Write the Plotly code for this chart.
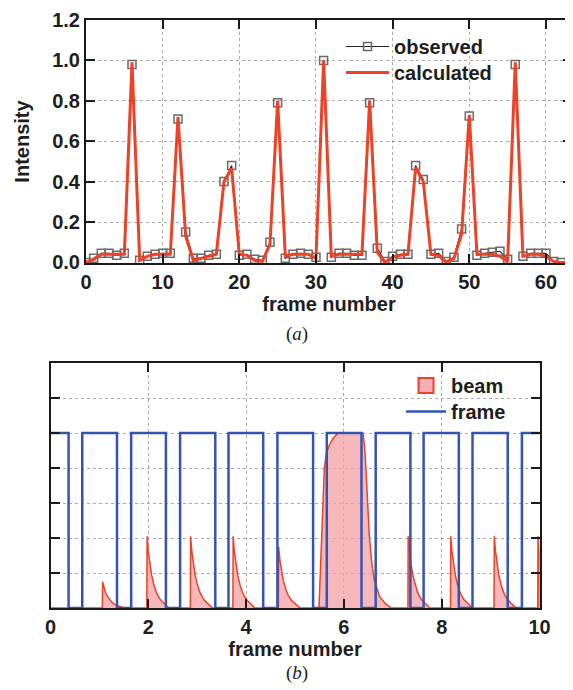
import plotly.graph_objects as go

# ---------------- data (a) ----------------
frames_obs = list(range(63))
observed = [0.0, 0.02, 0.045, 0.045, 0.035, 0.045, 0.98, 0.01, 0.03, 0.04,
            0.045, 0.045, 0.71, 0.15, 0.02, 0.02, 0.035, 0.04, 0.40, 0.48,
            0.035, 0.04, 0.015, 0.01, 0.10, 0.79, 0.02, 0.04, 0.045, 0.04,
            0.025, 1.0, 0.025, 0.045, 0.045, 0.035, 0.035, 0.79, 0.07, 0.005,
            0.03, 0.04, 0.04, 0.48, 0.41, 0.04, 0.045, 0.005, 0.025, 0.165,
            0.725, 0.035, 0.045, 0.05, 0.055, 0.015, 0.98, 0.03, 0.045, 0.045,
            0.045, 0.005, 0.0]
frames_calc = list(range(64))
calculated = [0.0, 0.015, 0.04, 0.04, 0.04, 0.04, 0.99, 0.01, 0.03, 0.04,
              0.04, 0.04, 0.72, 0.13, 0.01, 0.02, 0.03, 0.04, 0.40, 0.465,
              0.04, 0.035, 0.01, 0.005, 0.09, 0.80, 0.03, 0.04, 0.04, 0.04,
              0.02, 1.0, 0.03, 0.04, 0.04, 0.04, 0.04, 0.80, 0.05, 0.0,
              0.025, 0.035, 0.04, 0.47, 0.40, 0.04, 0.035, 0.0, 0.02, 0.14,
              0.73, 0.04, 0.04, 0.04, 0.03, 0.005, 0.99, 0.03, 0.04, 0.04,
              0.03, 0.005, 0.0, 0.0]
xticks_a = [0, 10, 20, 30, 40, 50, 60]
yticks_a = [0.0, 0.2, 0.4, 0.6, 0.8, 1.0, 1.2]

# ---------------- data (b) ----------------
# frame gate: times the frame switches off / on
frame_off = [0.37, 1.36, 2.36, 3.37, 4.35, 5.37, 6.36, 7.36, 8.35, 9.35]
frame_on = [0.65, 1.65, 2.65, 3.64, 4.64, 5.65, 6.65, 7.63, 8.63, 9.64]
# short beam pulses: start time and peak height
pulse_start = [1.06, 1.97, 2.86, 3.73, 4.66, 7.31, 8.18, 9.07, 9.965]
pulse_peak = [0.15, 0.41, 0.41, 0.41, 0.35, 0.41, 0.41, 0.41, 0.41]
# decay profile of a short pulse (offset from start, fraction of peak)
decay_dt = [0.0, 0.005, 0.03, 0.06, 0.10, 0.15, 0.20, 0.27, 0.35, 0.45]
decay_frac = [0.0, 1.0, 0.79, 0.62, 0.45, 0.31, 0.21, 0.12, 0.06, 0.0]
# long pulse around frame 6
long_t = [5.49, 5.52, 5.545, 5.57, 5.60, 5.64, 5.70, 5.78, 5.88, 6.39,
          6.42, 6.45, 6.52, 6.57, 6.62, 6.73, 6.85, 6.97]
long_v = [0.0, 0.2, 0.41, 0.62, 0.80, 0.88, 0.93, 0.97, 1.0, 1.0,
          0.93, 0.80, 0.41, 0.26, 0.16, 0.066, 0.025, 0.0]
xticks_b = [0, 2, 4, 6, 8, 10]
yticks_b = [0.0, 0.2, 0.4, 0.6, 0.8, 1.0, 1.2, 1.4]

# build beam series
pts = [(0.0, 0.0), (10.0, 0.0)]
for s, p in zip(pulse_start, pulse_peak):
    for dt, fr in zip(decay_dt, decay_frac):
        pts.append((s + dt, p * fr))
pts += list(zip(long_t, long_v))
pts.sort(key=lambda q: q[0])
beam_x = [q[0] for q in pts]
beam_y = [q[1] for q in pts]

# build frame step series
frame_x = [0.0]
frame_y = [1.0]
for off, on in zip(frame_off, frame_on):
    frame_x += [off, on]
    frame_y += [0.0, 1.0]
frame_x.append(10.0)
frame_y.append(1.0)

# ---------------- styling ----------------
OFF = 8  # page body margin
W, H = 573 - OFF, 690 - OFF
RED = "#ee4126"
BLUE = "#3454b4"
PINK = "rgba(244,160,165,0.75)"
TXT = "#1e1e1e"
FONT = "Liberation Sans, Arial, sans-serif"
bold = dict(family=FONT, size=20, color=TXT, weight="bold")


def px_dom_x(a, b):
    return [(a - OFF) / W, (b - OFF) / W]


def px_dom_y(top, bottom):
    return [1 - (bottom - OFF) / H, 1 - (top - OFF) / H]


def px_x(a):
    return (a - OFF) / W


def px_y(a):
    return 1 - (a - OFF) / H


fig = go.Figure()

fig.add_trace(go.Scatter(
    x=frames_obs, y=observed, mode="lines+markers", name="observed",
    line=dict(color="#222222", width=1.2),
    marker=dict(symbol="square-open", size=8, color="#6a6a6a",
                line=dict(width=1.5, color="#6a6a6a")),
    xaxis="x", yaxis="y", legend="legend"))
fig.add_trace(go.Scatter(
    x=frames_calc, y=calculated, mode="lines", name="calculated",
    line=dict(color=RED, width=3),
    xaxis="x", yaxis="y", legend="legend3"))

fig.add_trace(go.Scatter(
    x=beam_x, y=beam_y, mode="lines", name="beam", fill="tozeroy",
    fillcolor=PINK, line=dict(color=RED, width=1.5),
    xaxis="x2", yaxis="y2", showlegend=False))
fig.add_trace(go.Scatter(
    x=[None], y=[None], mode="markers", name="beam",
    marker=dict(symbol="square", size=15, color="rgba(246,175,178,1)",
                line=dict(color=RED, width=2)),
    xaxis="x2", yaxis="y2", legend="legend2"))
fig.add_trace(go.Scatter(
    x=frame_x, y=frame_y, mode="lines", name="frame", line_shape="hv",
    line=dict(color=BLUE, width=2.5),
    xaxis="x2", yaxis="y2", legend="legend4"))

axis_common = dict(
    showline=True, linecolor="#1a1a1a", linewidth=2, mirror="ticks",
    ticks="inside", ticklen=9, tickwidth=2, tickcolor="#1a1a1a",
    showgrid=True, gridcolor="#aaaaaa", gridwidth=1, griddash="dot",
    zeroline=False, tickfont=bold, automargin=False,
)

serif = dict(family="Liberation Serif, Times New Roman, serif", size=19,
             color=TXT)


def leg(xpx, ypx, iw):
    return dict(x=px_x(xpx), y=px_y(ypx), xanchor="left", yanchor="top",
                bgcolor="rgba(0,0,0,0)", font=bold, itemwidth=iw)


fig.update_layout(
    width=W, height=H, margin=dict(l=0, r=0, t=0, b=0),
    paper_bgcolor="white", plot_bgcolor="white",
    font=dict(family=FONT, color=TXT),
    xaxis=dict(axis_common, domain=px_dom_x(86, 572), range=[0, 63.4],
               tickvals=xticks_a, anchor="y",
               title=dict(text="frame number", font=bold, standoff=2)),
    yaxis=dict(axis_common, domain=px_dom_y(20, 263), range=[-0.003, 1.2],
               tickvals=yticks_a, tickformat=".1f", anchor="x",
               title=dict(text="Intensity", font=bold, standoff=17)),
    xaxis2=dict(axis_common, domain=px_dom_x(50.5, 539.5), range=[0, 10],
                tickvals=xticks_b, anchor="y2",
                title=dict(text="frame number", font=bold, standoff=1)),
    yaxis2=dict(axis_common, domain=px_dom_y(363, 608), range=[0, 1.4],
                tickvals=yticks_b, showticklabels=False, anchor="x2"),
    legend=leg(341, 27, 43),
    legend3=leg(341, 53, 43),
    legend2=leg(401, 366, 40),
    legend4=leg(401, 392, 40),
    annotations=[
        dict(text="(<i>a</i>)", x=px_x(297), y=px_y(334), xref="paper",
             yref="paper", showarrow=False, font=serif,
             xanchor="center", yanchor="middle"),
        dict(text="(<i>b</i>)", x=px_x(297), y=px_y(673), xref="paper",
             yref="paper", showarrow=False, font=serif,
             xanchor="center", yanchor="middle"),
    ],
)

fig.write_html("out.html")
